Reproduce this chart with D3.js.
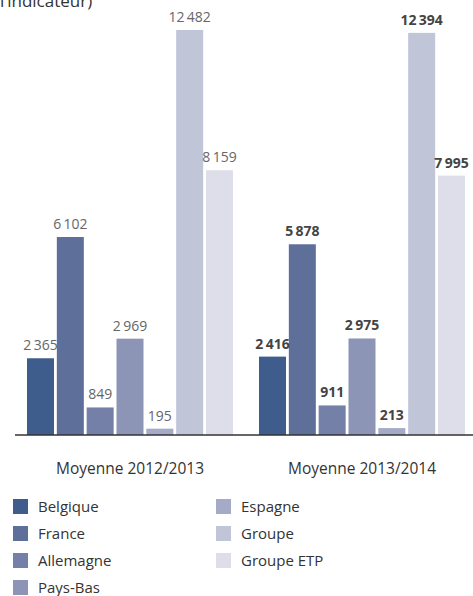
<!DOCTYPE html>
<html>
<head>
<meta charset="utf-8">
<script src="https://cdn.jsdelivr.net/npm/d3@7"></script>
<style>
  body { margin: 0; background: #fff; }
  svg { display: block; font-family: "Open Sans", sans-serif; }
</style>
</head>
<body>
<div class="chart"></div>
<script>
// data
var periods = ["Moyenne 2012/2013", "Moyenne 2013/2014"];
var countries = ["Belgique", "France", "Allemagne", "Pays-Bas", "Espagne", "Groupe", "Groupe ETP"];
var values2012 = [2365, 6102, 849, 2969, 195, 12482, 8159];
var values2013 = [2416, 5878, 911, 2975, 213, 12394, 7995];
var colors = ["#3e5d8c", "#5e6f99", "#7480a8", "#8c95b5", "#a5abc7", "#c0c5d8", "#dddeea"];

var width = 473, height = 596;
var baseline = 435;

var svg = d3.select(".chart").append("svg")
    .attr("width", width)
    .attr("height", height);

// title, cut off at the top like the original
svg.append("text")
  .attr("x", 0)
  .attr("y", 7)
  .style("font-size", "17px")
  .style("fill", "#333")
  .text("l’indicateur)");

var data = periods.map(function(p, i) {
  var vals = i == 0 ? values2012 : values2013;
  return {period: p, idx: i, values: countries.map(function(c, j) { return {country: c, value: vals[j], idx: i}; })};
});

// set the ranges
var x0 = d3.scaleBand()
    .domain(periods)
    .range([14, 478])
    .paddingInner(0.112)
    .paddingOuter(0.056);

var x1 = d3.scaleBand()
    .domain(countries)
    .range([0, x0.bandwidth()])
    .paddingInner(0.095)
    .paddingOuter(0);

var maxVal = d3.max(values2012.concat(values2013));
var y = d3.scaleLinear()
    .domain([0, maxVal])
    .range([baseline, 30]);

var color = d3.scaleOrdinal().domain(countries).range(colors);

var groups = svg.selectAll(".grp")
    .data(data)
  .enter().append("g")
    .attr("class", "grp")
    .attr("transform", function(d) { return "translate(" + x0(d.period) + ",0)"; });

groups.selectAll("rect")
    .data(function(d) { return d.values; })
  .enter().append("rect")
    .attr("x", function(d) { return x1(d.country); })
    .attr("y", function(d) { return y(d.value); })
    .attr("width", x1.bandwidth())
    .attr("height", function(d) { return baseline - y(d.value); })
    .style("fill", function(d) { return color(d.country); });

// thousands separated by a thin space
var fmt = function(v) { return d3.format(",")(v).replace(/,/g, "\u2009"); };

groups.selectAll(".val")
    .data(function(d) { return d.values; })
  .enter().append("text")
    .attr("class", "val")
    .attr("x", function(d) { return x1(d.country) + x1.bandwidth() / 2; })
    .attr("y", function(d) { return y(d.value) - 8; })
    .style("text-anchor", "middle")
    .style("font-size", "14px")
    .style("font-weight", function(d) { return d.idx == 1 ? "bold" : "normal"; })
    .style("fill", function(d) { return d.idx == 1 ? "#444" : "#666"; })
    .text(function(d) { return fmt(d.value); });

// axis line
svg.append("line")
  .attr("x1", 15).attr("x2", width)
  .attr("y1", baseline).attr("y2", baseline)
  .style("stroke", "#333")
  .style("stroke-width", 1.5);

// category labels
svg.selectAll(".cat")
    .data(periods)
  .enter().append("text")
    .attr("class", "cat")
    .attr("x", function(d) { return x0(d) + x0.bandwidth() / 2; })
    .attr("y", 474)
    .style("text-anchor", "middle")
    .style("font-size", "15.5px")
    .style("fill", "#333")
    .text(function(d) { return d; });

// legend
var legend = svg.selectAll(".leg")
    .data(countries)
  .enter().append("g")
    .attr("class", "leg")
    .attr("transform", function(d, i) {
      var col = i < 4 ? 0 : 1, row = i < 4 ? i : i - 4;
      return "translate(" + (13 + col * 203) + "," + (499 + row * 27) + ")";
    });

legend.append("rect")
    .attr("width", 15)
    .attr("height", 15)
    .style("fill", function(d) { return color(d); });

legend.append("text")
    .attr("x", 25)
    .attr("y", 13)
    .style("font-size", "15px")
    .style("fill", "#333")
    .text(function(d) { return d; });
</script>
</body>
</html>
